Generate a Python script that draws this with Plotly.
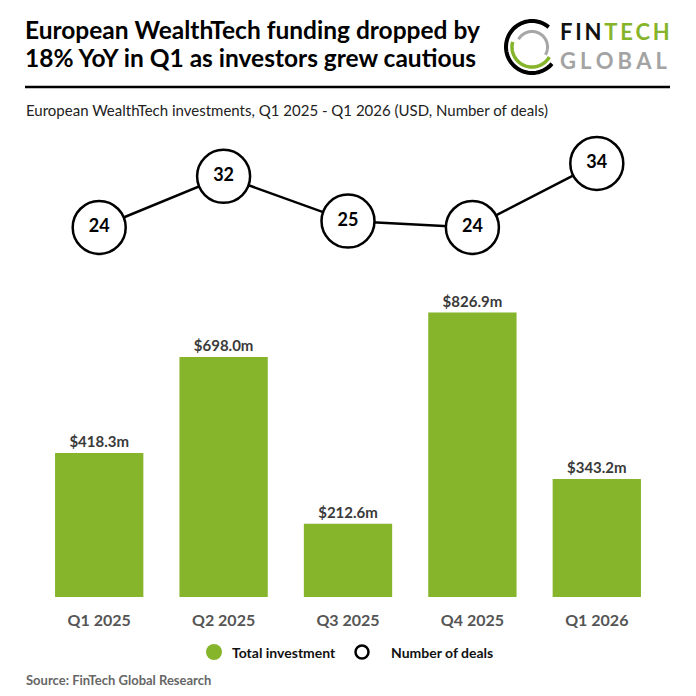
import math
import plotly.graph_objects as go

quarters = ["Q1 2025", "Q2 2025", "Q3 2025", "Q4 2025", "Q1 2026"]
investment = [418.3, 698.0, 212.6, 826.9, 343.2]
deals = [24, 32, 25, 24, 34]
invest_labels = ["$418.3m", "$698.0m", "$212.6m", "$826.9m", "$343.2m"]
title_lines = ["European WealthTech funding dropped by",
               "18% YoY in Q1 as investors grew cautious"]

W, H = 696, 696
L, R, T, B = 37, 37, 130, 99
PW, PH = W - L - R, H - T - B
GREEN = "#86B42B"
FONT = "Lato"
HS = "\u200a"
TS = "\u2009"


def px(x):
    return (x - L) / PW


def py(y):
    return (H - B - y) / PH


fig = go.Figure()
fig.add_trace(go.Bar(
    x=quarters, y=investment, marker=dict(color=GREEN, line=dict(width=0)),
    text=invest_labels, textposition="outside", cliponaxis=False,
    textfont=dict(family=FONT, size=15, color="#3a3a3a", weight="bold"),
    yaxis="y", showlegend=False, hoverinfo="skip",
))
fig.add_trace(go.Scatter(
    x=quarters, y=deals, mode="lines+markers+text", yaxis="y2",
    line=dict(color="black", width=2.5),
    marker=dict(size=53, color="white", line=dict(color="black", width=2.5)),
    text=[str(d) for d in deals], textposition="middle center",
    textfont=dict(family=FONT, size=18, color="black", weight="bold"),
    cliponaxis=False, showlegend=False, hoverinfo="skip",
))

shapes = []
annotations = []

# title
for line_text, yy in zip(title_lines, [30, 58]):
    annotations.append(dict(
        x=px(24), y=py(yy), xref="paper", yref="paper", xanchor="left", yanchor="middle",
        text=line_text, showarrow=False, align="left", borderpad=0,
        font=dict(family=FONT, size=24.5, color="black", weight="bold"),
    ))
shapes.append(dict(type="line", xref="paper", yref="paper",
                   x0=px(25), x1=px(670), y0=py(87), y1=py(87),
                   line=dict(color="black", width=2.5)))
annotations.append(dict(
    x=px(24), y=py(110), xref="paper", yref="paper", xanchor="left", yanchor="middle",
    text="European WealthTech investments, Q1 2025 - Q1 2026 (USD, Number of deals)",
    showarrow=False, font=dict(family=FONT, size=15, color="#222222"),
))

# logo rings


def arc_path(cx, cy, r, a1, a2, n=60):
    pts = []
    for i in range(n + 1):
        a = math.radians(a1 + (a2 - a1) * i / n)
        x = cx + r * math.cos(a)
        y = cy - r * math.sin(a)
        pts.append(f"{px(x):.5f},{py(y):.5f}")
    return "M " + " L ".join(pts)


cx, cy = 532, 47
shapes.append(dict(type="path", xref="paper", yref="paper",
                   path=arc_path(cx, cy, 26, 50, 320), line=dict(color="black", width=4)))
shapes.append(dict(type="path", xref="paper", yref="paper",
                   path=arc_path(cx, cy, 20, 165, 330), line=dict(color=GREEN, width=3.5)))
shapes.append(dict(type="path", xref="paper", yref="paper",
                   path=arc_path(cx, cy, 15.5, -30, 150), line=dict(color="#A6A6A6", width=3)))
logo_text = (
    "<span style='color:#111'>%s</span><span style='color:%s'>%s</span><br>"
    "<span style='color:#A3A3A3'>%s</span>"
    % (TS.join("FIN") + TS, GREEN, TS.join("TECH"), (TS + HS).join("GLOBAL"))
)
annotations.append(dict(
    x=px(559), y=py(46), xref="paper", yref="paper", xanchor="left", yanchor="middle",
    text=logo_text, align="left",
    showarrow=False, font=dict(family=FONT, size=22, weight="bold"), borderpad=0,
))

# legend
shapes.append(dict(type="circle", xref="paper", yref="paper",
                   x0=px(206), x1=px(222), y0=py(644), y1=py(660),
                   fillcolor=GREEN, line=dict(width=0)))
annotations.append(dict(
    x=px(230), y=py(652), xref="paper", yref="paper", xanchor="left", yanchor="middle",
    text="Total investment", showarrow=False,
    font=dict(family=FONT, size=14, color="#111", weight="bold"),
))
shapes.append(dict(type="circle", xref="paper", yref="paper",
                   x0=px(362 - 6.5), x1=px(362 + 6.5), y0=py(645.5), y1=py(658.5),
                   fillcolor="white", line=dict(color="black", width=2.5)))
annotations.append(dict(
    x=px(389), y=py(652), xref="paper", yref="paper", xanchor="left", yanchor="middle",
    text="Number of deals", showarrow=False,
    font=dict(family=FONT, size=14, color="#111", weight="bold"),
))

# source
annotations.append(dict(
    x=px(24), y=py(680), xref="paper", yref="paper", xanchor="left", yanchor="middle",
    text="Source: FinTech Global Research", showarrow=False,
    font=dict(family=FONT, size=13, color="#666666", weight="bold"),
))

fig.update_layout(
    width=W, height=H, margin=dict(l=L, r=R, t=T, b=B, pad=0),
    paper_bgcolor="white", plot_bgcolor="white",
    bargap=0.29,
    xaxis=dict(range=[-0.5, 4.5], showgrid=False, zeroline=False, showline=False,
               ticks="", tickfont=dict(family=FONT, size=16, color="#555555", weight="bold"),
               ticklabelstandoff=12, fixedrange=True),
    yaxis=dict(range=[0, 1357.6], visible=False, showgrid=False, zeroline=False,
               fixedrange=True),
    yaxis2=dict(range=[-33.73, 39.23], overlaying="y", visible=False,
                showgrid=False, zeroline=False, fixedrange=True),
    shapes=shapes, annotations=annotations,
)

fig.write_html(
    "out.html",
    config={"displayModeBar": False, "staticPlot": True},
    post_script="document.body.style.margin='0';document.body.style.overflow='hidden';",
)
